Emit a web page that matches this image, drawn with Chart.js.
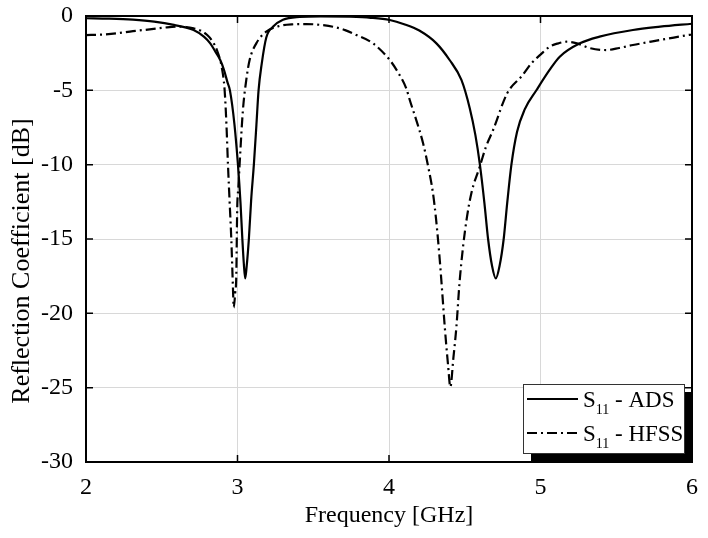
<!DOCTYPE html>
<html lang="en">
<head>
  <meta charset="UTF-8">
  <title>Reflection Coefficient</title>
  <script src="https://cdn.jsdelivr.net/npm/chart.js"></script>
  <style>
    body {
      margin: 0;
      padding: 0;
      background-color: #ffffff;
    }
    #wrap {
      width: 708px;
      height: 538px;
    }
  </style>
</head>
<body>
  <div id="wrap">
    <canvas id="s11Chart" width="708" height="538"></canvas>
  </div>

  <script>
    // S11 simulated with ADS (solid line)
    const freqADS = [2.00, 2.15, 2.31, 2.45, 2.58, 2.71, 2.78, 2.82, 2.86, 2.886, 2.91, 2.935, 2.95, 2.98,
      3.003, 3.02, 3.032, 3.042, 3.051, 3.06, 3.075, 3.09, 3.108, 3.125, 3.139, 3.16, 3.19, 3.234, 3.30,
      3.41, 3.55, 3.74, 3.88, 4.005, 4.10, 4.20, 4.313, 4.40, 4.478, 4.533, 4.57, 4.60, 4.63, 4.654, 4.68,
      4.705, 4.73, 4.757, 4.78, 4.808, 4.845, 4.895, 4.974, 5.06, 5.127, 5.26, 5.39, 5.61, 5.79, 6.00];
    const s11ADS = [-0.15, -0.18, -0.25, -0.38, -0.6, -0.94, -1.4, -1.84, -2.5, -2.96, -3.6, -4.5, -5.0, -7.3,
      -10, -12.6, -15, -16.7, -17.65, -16.9, -15, -12.4, -10, -7.3, -5, -3.2, -1.45, -0.72, -0.25,
      -0.06, -0.02, -0.05, -0.12, -0.27, -0.55, -0.98, -1.84, -2.96, -4.3, -6.2, -8, -10, -12.6, -15, -16.8,
      -17.65, -16.8, -15, -12.6, -10, -7.8, -6.3, -4.98, -3.63, -2.74, -1.84, -1.39, -0.94, -0.72, -0.52];

    // S11 simulated with HFSS (dash-dot line)
    const freqHFSS = [2.00, 2.10, 2.20, 2.31, 2.42, 2.52, 2.60, 2.66, 2.71, 2.76, 2.80, 2.835, 2.864, 2.897,
      2.915, 2.927, 2.937, 2.948, 2.959, 2.97, 2.975, 2.985, 2.992, 2.998, 3.006, 3.014, 3.036, 3.058, 3.08,
      3.124, 3.19, 3.278, 3.36, 3.454, 3.55, 3.63, 3.71, 3.785, 3.894, 4.005, 4.06, 4.115, 4.137, 4.18, 4.225,
      4.26, 4.29, 4.31, 4.335, 4.35, 4.368, 4.39, 4.405, 4.425, 4.445, 4.465, 4.489, 4.515, 4.544, 4.60, 4.64,
      4.687, 4.78, 4.88, 4.94, 5.00, 5.061, 5.117, 5.17, 5.24, 5.33, 5.436, 5.52, 5.61, 5.70, 5.79, 5.88, 5.975, 6.00];
    const s11HFSS = [-1.28, -1.25, -1.17, -1.02, -0.9, -0.78, -0.72, -0.74, -0.83, -1.0, -1.28, -1.7, -2.29, -3.5,
      -4.98, -7.3, -9.97, -12.5, -14.98, -18.3, -19.6, -18.6, -17.5, -13, -11.5, -9.97, -6.3, -4.3, -2.96,
      -1.84, -1.05, -0.67, -0.56, -0.54, -0.6, -0.72, -0.95, -1.28, -1.84, -2.96, -3.8, -4.9, -5.65, -7, -8.56,
      -10.2, -11.9, -13.6, -16.4, -18.4, -20.9, -23.5, -24.95, -23, -20.9, -18, -15.5, -13.5, -11.9, -10.1, -8.8,
      -7.67, -5.2, -4.0, -3.18, -2.6, -2.06, -1.84, -1.73, -1.84, -2.17, -2.29, -2.15, -1.95, -1.78, -1.61, -1.45, -1.28, -1.25];

    const xTicks = [2, 3, 4, 5, 6];
    const yTicks = [0, -5, -10, -15, -20, -25, -30];
    const seriesNames = ['ADS', 'HFSS'];
    const yTitle = 'Reflection Coefficient [dB]';

    const serif = "'Liberation Serif', 'Times New Roman', serif";

    function toPoints(xs, ys) {
      return xs.map((x, i) => ({ x: x, y: ys[i] }));
    }

    // frame, inward ticks, y title and the boxed legend with its shadow
    const framePlugin = {
      id: 'frame',
      afterDatasetsDraw(chart) {
        const ctx = chart.ctx;
        const a = chart.chartArea;
        const xs = chart.scales.x;
        const ys = chart.scales.y;
        ctx.save();
        ctx.strokeStyle = '#000';
        ctx.lineWidth = 1.5;
        xTicks.slice(1, -1).forEach(v => {
          const px = xs.getPixelForValue(v);
          ctx.beginPath();
          ctx.moveTo(px, a.top); ctx.lineTo(px, a.top + 7);
          ctx.moveTo(px, a.bottom); ctx.lineTo(px, a.bottom - 7);
          ctx.stroke();
        });
        yTicks.slice(1, -1).forEach(v => {
          const py = ys.getPixelForValue(v);
          ctx.beginPath();
          ctx.moveTo(a.left, py); ctx.lineTo(a.left + 7, py);
          ctx.moveTo(a.right, py); ctx.lineTo(a.right - 7, py);
          ctx.stroke();
        });
        ctx.lineWidth = 2;
        ctx.strokeRect(a.left, a.top, a.right - a.left, a.bottom - a.top);

        // y axis title
        ctx.save();
        ctx.translate(22, 261);
        ctx.rotate(-Math.PI / 2);
        ctx.fillStyle = '#000';
        ctx.font = '26px ' + serif;
        ctx.textAlign = 'center';
        ctx.textBaseline = 'middle';
        ctx.fillText(yTitle, 0, 0);
        ctx.restore();

        // legend box
        const bx = 523, by = 384, bw = 161, bh = 69;
        ctx.fillStyle = '#000';
        ctx.fillRect(bx + 8, by + 8, bw, bh);
        ctx.fillStyle = '#fff';
        ctx.fillRect(bx, by, bw, bh);
        ctx.lineWidth = 1;
        ctx.strokeStyle = '#333';
        ctx.strokeRect(bx + 0.5, by + 0.5, bw, bh);

        chart.data.datasets.forEach((ds, i) => {
          const ly = by + 15 + i * 34;
          ctx.strokeStyle = ds.borderColor;
          ctx.lineWidth = ds.borderWidth;
          ctx.setLineDash(ds.borderDash || []);
          ctx.beginPath();
          ctx.moveTo(bx + 4, ly);
          ctx.lineTo(bx + 55, ly);
          ctx.stroke();
          ctx.setLineDash([]);
          ctx.fillStyle = '#000';
          ctx.textBaseline = 'alphabetic';
          ctx.textAlign = 'left';
          ctx.font = '23px ' + serif;
          ctx.fillText('S', bx + 60, ly + 8);
          const sw = ctx.measureText('S').width;
          ctx.font = '14px ' + serif;
          ctx.fillText('11', bx + 60 + sw, ly + 15);
          const subw = ctx.measureText('11').width;
          ctx.font = '23px ' + serif;
          ctx.fillText(' - ' + seriesNames[i], bx + 60 + sw + subw, ly + 8);
        });
        ctx.restore();
      }
    };

    new Chart(document.getElementById('s11Chart'), {
      type: 'scatter',
      data: {
        datasets: [
          {
            label: 'S11 - ADS',
            data: toPoints(freqADS, s11ADS),
            showLine: true,
            borderColor: '#000',
            borderWidth: 2.2,
            pointRadius: 0,
            cubicInterpolationMode: 'monotone'
          },
          {
            label: 'S11 - HFSS',
            data: toPoints(freqHFSS, s11HFSS),
            showLine: true,
            borderColor: '#000',
            borderWidth: 2.2,
            borderDash: [10, 4, 2, 4],
            pointRadius: 0,
            cubicInterpolationMode: 'monotone'
          }
        ]
      },
      options: {
        responsive: false,
        animation: false,
        layout: { padding: { top: 16, right: 16, left: 0, bottom: 0 } },
        plugins: {
          legend: { display: false },
          tooltip: { enabled: false }
        },
        scales: {
          x: {
            type: 'linear',
            min: 2,
            max: 6,
            afterBuildTicks: s => { s.ticks = xTicks.map(v => ({ value: v })); },
            afterFit: s => {
              s.height = 76;
              s.paddingLeft = 0;
              s.paddingRight = 0;
            },
            grid: { color: '#d8d8d8', lineWidth: 1, drawTicks: false },
            border: { display: false },
            ticks: {
              color: '#000',
              padding: 11,
              font: { family: serif, size: 24 }
            },
            title: {
              display: true,
              text: 'Frequency [GHz]',
              color: '#000',
              padding: { top: 4, bottom: 8 },
              font: { family: serif, size: 24 }
            }
          },
          y: {
            type: 'linear',
            min: -30,
            max: 0,
            afterBuildTicks: s => { s.ticks = yTicks.map(v => ({ value: v })); },
            afterFit: s => {
              s.width = 86;
              s.paddingTop = 0;
              s.paddingBottom = 0;
            },
            grid: { color: '#d8d8d8', lineWidth: 1, drawTicks: false },
            border: { display: false },
            ticks: {
              color: '#000',
              padding: 13,
              font: { family: serif, size: 24 }
            },
            title: { display: false }
          }
        }
      },
      plugins: [framePlugin]
    });
  </script>
</body>
</html>
